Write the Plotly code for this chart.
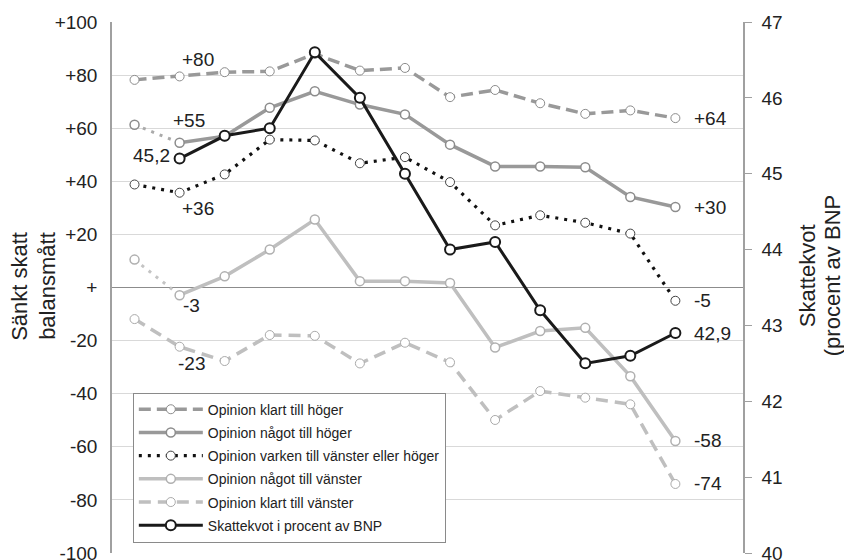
import plotly.graph_objects as go

# ---- data ----
periods = list(range(13))

klart_hoger = [78.2, 79.5, 81.1, 81.4, 88.0, 81.7, 82.7, 71.7, 74.4, 69.4, 65.4, 66.7, 63.8]
nagot_hoger = [61.3, 54.5, 57.0, 67.7, 73.9, 68.9, 65.2, 53.8, 45.6, 45.6, 45.3, 34.1, 30.3]
varken = [38.8, 35.7, 42.6, 55.7, 55.4, 46.8, 49.1, 39.7, 23.4, 27.2, 24.4, 20.3, -5.0]
nagot_vanster = [10.5, -2.9, 4.2, 14.3, 25.6, 2.4, 2.4, 1.7, -22.6, -16.4, -15.2, -33.4, -57.8]
klart_vanster = [-11.9, -22.3, -27.7, -17.9, -18.2, -28.6, -20.8, -28.2, -49.9, -39.0, -41.5, -44.0, -74.0]
skattekvot = [None, 45.2, 45.5, 45.6, 46.6, 46.0, 45.0, 44.0, 44.1, 43.2, 42.5, 42.6, 42.9]

left_tickvals = [100, 80, 60, 40, 20, 0, -20, -40, -60, -80, -100]
left_ticktext = ["+100", "+80", "+60", "+40", "+20", "+", "-20", "-40", "-60", "-80", "-100"]
right_tickvals = [40, 41, 42, 43, 44, 45, 46, 47]

names = ["Opinion klart till höger", "Opinion något till höger",
         "Opinion varken till vänster eller höger", "Opinion något till vänster",
         "Opinion klart till vänster", "Skattekvot i procent av BNP"]

DARK = "#999999"
LIGHT = "#bfbfbf"
FONT = "Liberation Sans, Arial, sans-serif"
TXT = "#222222"

fig = go.Figure()

def add_series(y, name, rank, color, dash, width, mline_color, mline_w, first_dotted=False, dot_color=None):
    if first_dotted:
        fig.add_trace(go.Scatter(
            x=periods[:2], y=y[:2], mode="lines", showlegend=False, hoverinfo="skip",
            line=dict(color=dot_color, width=3, dash="3px,6px")))
        xs, ys = periods[1:], y[1:]
        fig.add_trace(go.Scatter(
            x=periods[:1], y=y[:1], mode="markers", showlegend=False, hoverinfo="skip",
            marker=dict(size=9, color="white", line=dict(color=mline_color, width=mline_w))))
    else:
        xs, ys = periods, y
    fig.add_trace(go.Scatter(
        x=xs, y=ys, mode="lines+markers", name=name, legendgroup=name, legendrank=rank,
        line=dict(color=color, width=width, dash=dash),
        marker=dict(size=9, color="white", line=dict(color=mline_color, width=mline_w))))

add_series(klart_vanster, names[4], 5, LIGHT, "12px,7px", 3.5, "#aaaaaa", 1)
add_series(nagot_vanster, names[3], 4, LIGHT, "solid", 3.5, "#b0b0b0", 1.5, True, "#c4c4c4")
add_series(varken, names[2], 3, "#111111", "3px,6px", 3.2, "#444444", 1)
add_series(nagot_hoger, names[1], 2, DARK, "solid", 3.5, "#8c8c8c", 1.5, True, "#aaaaaa")
add_series(klart_hoger, names[0], 1, DARK, "12px,6px", 3.5, "#8c8c8c", 1)

fig.add_trace(go.Scatter(
    x=periods, y=skattekvot, mode="lines+markers", name=names[5], legendgroup=names[5],
    legendrank=6, yaxis="y2", line=dict(color="#1a1a1a", width=3),
    marker=dict(size=10, color="white", line=dict(color="#1a1a1a", width=2))))

# value labels
def lab(text, x, y, xshift, yshift, yref="y", xanchor="center"):
    fig.add_annotation(x=x, y=y, xref="x", yref=yref, text=text, showarrow=False,
                       xanchor=xanchor, yanchor="middle", xshift=xshift, yshift=yshift,
                       font=dict(family=FONT, size=19, color=TXT))

lab("+80", periods[1], klart_hoger[1], 18, 17)
lab("+55", periods[1], nagot_hoger[1], 9, 22)
lab("45,2", periods[1], skattekvot[1], -8, 3, "y2", "right")
lab("+36", periods[1], varken[1], 18, -16)
lab("-3", periods[1], nagot_vanster[1], 12, -10)
lab("-23", periods[1], klart_vanster[1], 12, -17)
last = periods[-1]
lab("+64", last, klart_hoger[-1], 17, 0, "y", "left")
lab("+30", last, nagot_hoger[-1], 17, 0, "y", "left")
lab("-5", last, varken[-1], 17, 0, "y", "left")
lab("42,9", last, skattekvot[-1], 17, 0, "y2", "left")
lab("-58", last, nagot_vanster[-1], 17, 0, "y", "left")
lab("-74", last, klart_vanster[-1], 17, 0, "y", "left")

# axis titles (one annotation per line for exact spacing)
def title_line(text, x, y):
    fig.add_annotation(x=x, y=y, xref="paper", yref="paper", text=text,
                       textangle=-90, showarrow=False, xanchor="center", yanchor="middle",
                       font=dict(family=FONT, size=22, color=TXT))

title_line("Sänkt skatt", -0.1459, 0.503)
title_line("balansmått", -0.1015, 0.503)
title_line("Skattekvot", 1.1034, 0.5217)
title_line("(procent av BNP", 1.1430, 0.5217)

# the page body adds an 8px offset, so margins are reduced by 8px on left/top
fig.update_layout(
    width=852, height=560,
    margin=dict(l=104, r=117, t=14, b=15, autoexpand=False),
    paper_bgcolor="white", plot_bgcolor="white",
    font=dict(family=FONT, color=TXT),
    showlegend=True,
    legend=dict(x=0.033, y=0.302, xanchor="left", yanchor="top",
                bordercolor="#8a8a8a", borderwidth=1, bgcolor="white",
                font=dict(family=FONT, size=14, color=TXT),
                traceorder="grouped", tracegroupgap=2, itemwidth=64),
    xaxis=dict(range=[-0.5, 13.5], showgrid=False, zeroline=False, showticklabels=False,
               showline=False, ticks="", automargin=False),
    yaxis=dict(range=[-100, 100], tickvals=left_tickvals, ticktext=left_ticktext,
               showgrid=True, gridcolor="#d9d9d9", gridwidth=1,
               zeroline=True, zerolinecolor="#8c8c8c", zerolinewidth=1,
               showline=True, linecolor="#a0a0a0", linewidth=1.5,
               ticks="", ticklabelstandoff=9, automargin=False,
               tickfont=dict(family=FONT, size=19, color=TXT)),
    yaxis2=dict(range=[40, 47], tickvals=right_tickvals, overlaying="y", side="right",
                showgrid=False, zeroline=False, showline=True, linecolor="#a0a0a0", linewidth=1.5,
                ticks="outside", ticklen=7, tickcolor="#a0a0a0", tickwidth=1,
                ticklabelstandoff=6, automargin=False,
                tickfont=dict(family=FONT, size=19, color=TXT)),
)

fig.write_html("out.html")
